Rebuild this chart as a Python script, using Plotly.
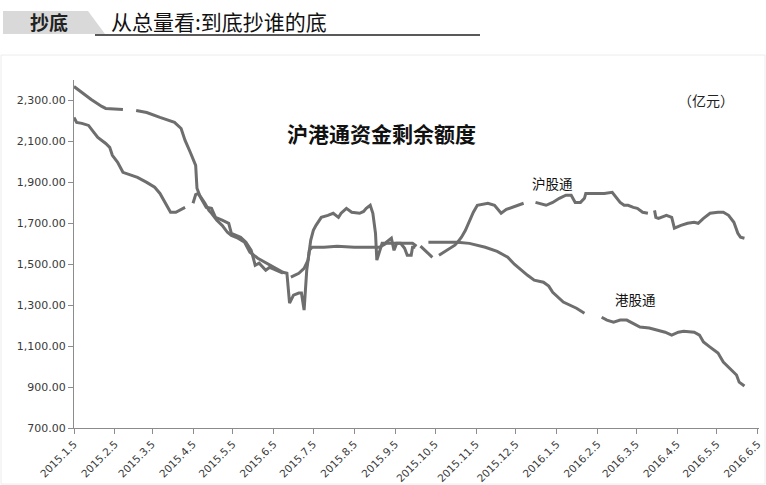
import plotly.graph_objects as go

# ---------------- data ----------------
sh_dates = ["2015-01-05","2015-01-07","2015-01-11","2015-01-16","2015-01-20","2015-01-23","2015-01-29",
            "2015-02-01","2015-02-03","2015-02-07","2015-02-11","2015-02-16","2015-02-22","2015-03-01",
            "2015-03-07","2015-03-11","2015-03-15","2015-03-19","2015-03-23","2015-03-26","2015-03-30",
            "2015-04-02","2015-04-05","2015-04-07","2015-04-09","2015-04-13","2015-04-15","2015-04-19",
            "2015-04-22","2015-04-27","2015-05-02","2015-05-04","2015-05-11","2015-05-15","2015-05-19",
            "2015-05-21","2015-05-22","2015-05-25","2015-05-30","2015-06-02","2015-06-07","2015-06-12",
            "2015-06-15","2015-06-18","2015-06-24","2015-06-28","2015-07-01","2015-07-03","2015-07-05",
            "2015-07-07","2015-07-11","2015-07-16","2015-07-20","2015-07-24","2015-07-26","2015-07-30",
            "2015-08-03","2015-08-09","2015-08-12","2015-08-14","2015-08-17","2015-08-19","2015-08-21",
            "2015-08-22","2015-08-24","2015-08-26","2015-08-28","2015-08-31","2015-09-02","2015-09-04",
            "2015-09-06","2015-09-09","2015-09-12","2015-09-14","2015-09-17","2015-09-18","2015-09-20",
            "2015-09-22","2015-09-24","2015-09-29","2015-10-03","2015-10-05","2015-10-08","2015-10-14",
            "2015-10-20","2015-10-22","2015-10-25","2015-10-28","2015-10-31","2015-11-03","2015-11-06",
            "2015-11-14","2015-11-19","2015-11-24","2015-11-28","2015-12-04","2015-12-11","2015-12-14",
            "2015-12-20","2015-12-28","2016-01-02","2016-01-07","2016-01-12","2016-01-16","2016-01-19",
            "2016-01-23","2016-01-26","2016-01-27","2016-02-03","2016-02-10","2016-02-16","2016-02-19",
            "2016-02-22","2016-02-25","2016-02-28","2016-03-03","2016-03-06","2016-03-10","2016-03-14",
            "2016-03-16","2016-03-19","2016-03-20","2016-03-22","2016-03-28","2016-04-01","2016-04-03",
            "2016-04-08","2016-04-13","2016-04-18","2016-04-21","2016-04-25","2016-04-30","2016-05-06",
            "2016-05-10","2016-05-14","2016-05-18","2016-05-21","2016-05-23","2016-05-26"]
sh_values = [2217,2193,2188,2178,2144,2119,2090,
             2071,2032,1998,1949,1939,1924,1900,
             1876,1846,1798,1754,1754,1763,1778,
             None,1798,1840,1846,1798,1778,1773,
             1729,1715,1700,1651,1632,1607,1568,
             1520,1495,1505,1471,1485,1471,1456,
             None,1437,1456,1480,1520,1617,1666,
             1690,1729,1739,1749,1729,1749,1773,
             1754,1749,1758,1773,1788,1749,1651,
             1520,1559,1602,1602,1617,1627,1568,
             1602,1602,1578,1544,1544,1583,1583,
             None,1588,1559,1534,None,1544,1568,
             1593,1607,1632,1666,1715,1754,1788,
             1798,1788,1749,1768,1783,1798,None,
             1802,1788,1802,1822,1837,1837,1802,
             1802,1822,1846,1846,1846,1851,1827,
             1802,1788,1788,1778,1773,1754,1749,
             None,1763,1729,1724,1739,1729,1676,
             1690,1700,1705,1700,1724,1749,1754,
             1754,1739,1705,1651,1632,1627]

hk_dates = ["2015-01-05","2015-01-11","2015-01-18","2015-01-26","2015-01-29","2015-02-11","2015-02-16",
            "2015-02-21","2015-03-01","2015-03-11","2015-03-22","2015-03-27","2015-03-30","2015-04-03",
            "2015-04-07","2015-04-08","2015-04-10","2015-04-14","2015-04-17","2015-04-19","2015-04-23",
            "2015-04-27","2015-05-01","2015-05-04","2015-05-09","2015-05-14","2015-05-18","2015-05-24",
            "2015-05-31","2015-06-07","2015-06-12","2015-06-15","2015-06-17","2015-06-20","2015-06-24",
            "2015-06-26","2015-06-28","2015-06-30","2015-07-02","2015-07-04","2015-07-13","2015-07-23",
            "2015-08-05","2015-08-17","2015-08-24","2015-08-29","2015-09-06","2015-09-11","2015-09-18",
            "2015-09-21","2015-09-25","2015-09-30","2015-10-22","2015-10-31","2015-11-12","2015-11-21",
            "2015-11-29","2015-12-04","2015-12-09","2015-12-14","2015-12-19","2015-12-26","2015-12-30",
            "2016-01-02","2016-01-10","2016-01-15","2016-01-20","2016-01-26","2016-01-30","2016-02-08",
            "2016-02-12","2016-02-17","2016-02-22","2016-02-27","2016-03-03","2016-03-08","2016-03-15",
            "2016-03-22","2016-03-27","2016-04-01","2016-04-06","2016-04-10","2016-04-18","2016-04-22",
            "2016-04-25","2016-04-30","2016-05-06","2016-05-10","2016-05-16","2016-05-20","2016-05-22",
            "2016-05-26"]
hk_values = [2368,2339,2305,2271,2261,2256,None,
             2251,2241,2217,2193,2163,2105,2046,
             1983,1871,1837,1798,1763,1749,1715,
             1690,1656,1641,1627,1607,1559,1529,
             1505,1480,1461,1456,1310,1349,1359,
             1359,1276,1471,1568,1583,1583,1588,
             1583,1583,1583,1602,1602,1602,1602,
             1588,None,1607,1607,1602,1583,1563,
             1534,1500,1471,1446,1422,1412,1393,
             1363,1315,1300,1285,1261,None,1241,
             1227,1217,1227,1227,1212,1193,1188,
             1178,1168,1154,1168,1173,1168,1154,
             1120,1095,1066,1022,983,959,924,
             905]

tick_dates = ["2015-01-05","2015-02-05","2015-03-05","2015-04-05","2015-05-05","2015-06-05",
              "2015-07-05","2015-08-05","2015-09-05","2015-10-05","2015-11-05","2015-12-05",
              "2016-01-05","2016-02-05","2016-03-05","2016-04-05","2016-05-05","2016-06-05"]
tick_labels = ["2015.1.5","2015.2.5","2015.3.5","2015.4.5","2015.5.5","2015.6.5","2015.7.5",
               "2015.8.5","2015.9.5","2015.10.5","2015.11.5","2015.12.5","2016.1.5","2016.2.5",
               "2016.3.5","2016.4.5","2016.5.5","2016.6.5"]

LINE = "#6e6e6e"
CJK = "Noto Sans CJK SC"
LAT = "DejaVu Sans"

fig = go.Figure()
fig.add_trace(go.Scatter(x=sh_dates, y=sh_values, mode="lines", name="沪股通",
                         line=dict(color=LINE, width=3), connectgaps=False))
fig.add_trace(go.Scatter(x=hk_dates, y=hk_values, mode="lines", name="港股通",
                         line=dict(color=LINE, width=3), connectgaps=False))

# pixel -> paper helpers (plot area: x 74..759, y 80..428)
PL, PR, PT, PB = 74, 759, 80, 428
def px(x):
    return (x - PL) / float(PR - PL)
def py(y):
    return (PB - y) / float(PB - PT)

fig.update_layout(
    width=766, height=485,
    margin=dict(l=PL, r=766 - PR, t=PT, b=485 - PB, autoexpand=False),
    paper_bgcolor="white", plot_bgcolor="white",
    showlegend=False,
    xaxis=dict(type="date", range=["2015-01-05", "2016-06-06"],
               tickmode="array", tickvals=tick_dates, ticktext=tick_labels,
               tickangle=-45, ticks="outside", ticklen=5, tickcolor="#8c8c8c",
               showline=True, linecolor="#8c8c8c", linewidth=1, showgrid=False, zeroline=False,
               automargin=False, ticklabeloverflow="allow",
               tickfont=dict(family=LAT, size=10.5, color="#3a3a3a")),
    yaxis=dict(range=[700, 2400], tick0=700, dtick=200, tickformat=",.2f",
               ticks="outside", ticklen=5, tickcolor="#8c8c8c",
               showline=True, linecolor="#8c8c8c", linewidth=1, showgrid=False, zeroline=False,
               automargin=False, ticklabeloverflow="allow",
               tickfont=dict(family=LAT, size=11, color="#3a3a3a")),
)

shapes = [
    dict(type="path", xref="paper", yref="paper",
         path=f"M {px(3)},{py(11)} L {px(88)},{py(11)} L {px(105)},{py(34)} L {px(3)},{py(34)} Z",
         fillcolor="#d9d9d9", line=dict(width=0), layer="below"),
    dict(type="line", xref="paper", yref="paper", x0=px(95), x1=px(480), y0=py(35), y1=py(35),
         line=dict(color="#222222", width=1.5)),
    dict(type="rect", xref="paper", yref="paper", x0=px(1), x1=px(765), y0=py(484), y1=py(55),
         line=dict(color="#ececec", width=1), layer="below"),
]
fig.update_layout(shapes=shapes)

annotations = [
    dict(text="<b>抄底</b>", x=px(49), y=py(22), xref="paper", yref="paper", showarrow=False,
         xanchor="center", yanchor="middle", font=dict(family=CJK, size=19, color="#222222")),
    dict(text="从总量看:到底抄谁的底", x=px(109), y=py(21), xref="paper", yref="paper", showarrow=False,
         xanchor="left", yanchor="middle", font=dict(family=CJK, size=21, color="#111111")),
    dict(text="<b>沪港通资金剩余额度</b>", x=px(381), y=py(133), xref="paper", yref="paper",
         showarrow=False, xanchor="center", yanchor="middle",
         font=dict(family=CJK, size=21, color="#111111")),
    dict(text="（亿元）", x=px(706), y=py(100), xref="paper", yref="paper", showarrow=False,
         xanchor="center", yanchor="middle", font=dict(family=CJK, size=14, color="#222222")),
    dict(text="沪股通", x=px(552), y=py(183), xref="paper", yref="paper", showarrow=False,
         xanchor="center", yanchor="middle", font=dict(family=CJK, size=13.5, color="#111111")),
    dict(text="港股通", x=px(635), y=py(299), xref="paper", yref="paper", showarrow=False,
         xanchor="center", yanchor="middle", font=dict(family=CJK, size=13.5, color="#111111")),
]
fig.update_layout(annotations=annotations)

fig.write_html("out.html", config={"displayModeBar": False},
               post_script="document.body.style.margin='0';document.body.style.overflow='hidden';")
